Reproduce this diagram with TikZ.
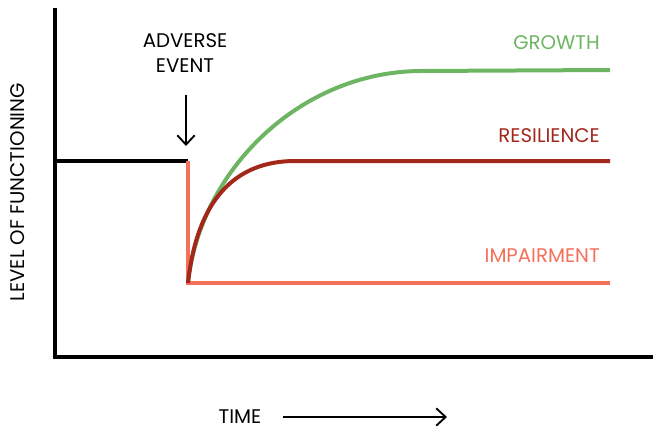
\documentclass[tikz,border=0pt]{standalone}
\usepackage{fontspec}
\setmainfont{Poppins}
\usetikzlibrary{arrows.meta}
\definecolor{growthc}{HTML}{6DB562}
\definecolor{resilc}{HTML}{A3281B}
\definecolor{impairc}{HTML}{F4705A}

\begin{document}
\begin{tikzpicture}[x=0.75pt,y=-0.75pt,
  lbl/.style={font=\fontsize{14.8}{18}\selectfont, inner sep=0pt},
  curve/.style={line width=3pt},
  barb/.style={-{Straight Barb[length=7pt,width=13pt,line width=1.4pt]}, line width=1.4pt}]
  \useasboundingbox (0,0) rectangle (653,429);
  \coordinate (top) at (55,8);
  \coordinate (org) at (55,357);
  \coordinate (xend) at (653,357);
  \coordinate (pre) at (188,161);
  \coordinate (low) at (188,283);
  \coordinate (ilow) at (610,283);
  \coordinate (rflat) at (295,161);
  \coordinate (rend) at (610,161);
  \coordinate (gflat) at (420,71);
  \coordinate (gend) at (610,70);
  \draw[line width=3pt] (top) -- (org) -- (xend);
  \draw[curve] (org |- pre) -- (pre);
  \draw[curve, growthc] (low) .. controls (200,170) and (300,72) .. (gflat) -- (gend);
  \draw[curve, impairc] (pre) -- (low) -- (ilow);
  \draw[curve, resilc] (low) .. controls (197,200) and (235,161) .. (rflat) -- (rend);
  \node[lbl, align=center] (ev) at (185,53) {ADVERSE\\[1pt]EVENT};
  \coordinate (evtip) at (186,146);
  \draw[barb] (186,95) -- (evtip);
  \node[lbl, anchor=east, text=growthc] (gl) at (600,43) {GROWTH};
  \node[lbl, anchor=east, text=resilc] (rl) at (600,136) {RESILIENCE};
  \node[lbl, anchor=east, text=impairc] (il) at (600,256) {IMPAIRMENT};
  \node[lbl, rotate=90] (lf) at (18,192) {LEVEL OF FUNCTIONING};
  \node[lbl] (tm) at (240,417) {TIME};
  \coordinate (tend) at (447,417);
  \draw[barb] (283,417) -- (tend);
\end{tikzpicture}
\end{document}
